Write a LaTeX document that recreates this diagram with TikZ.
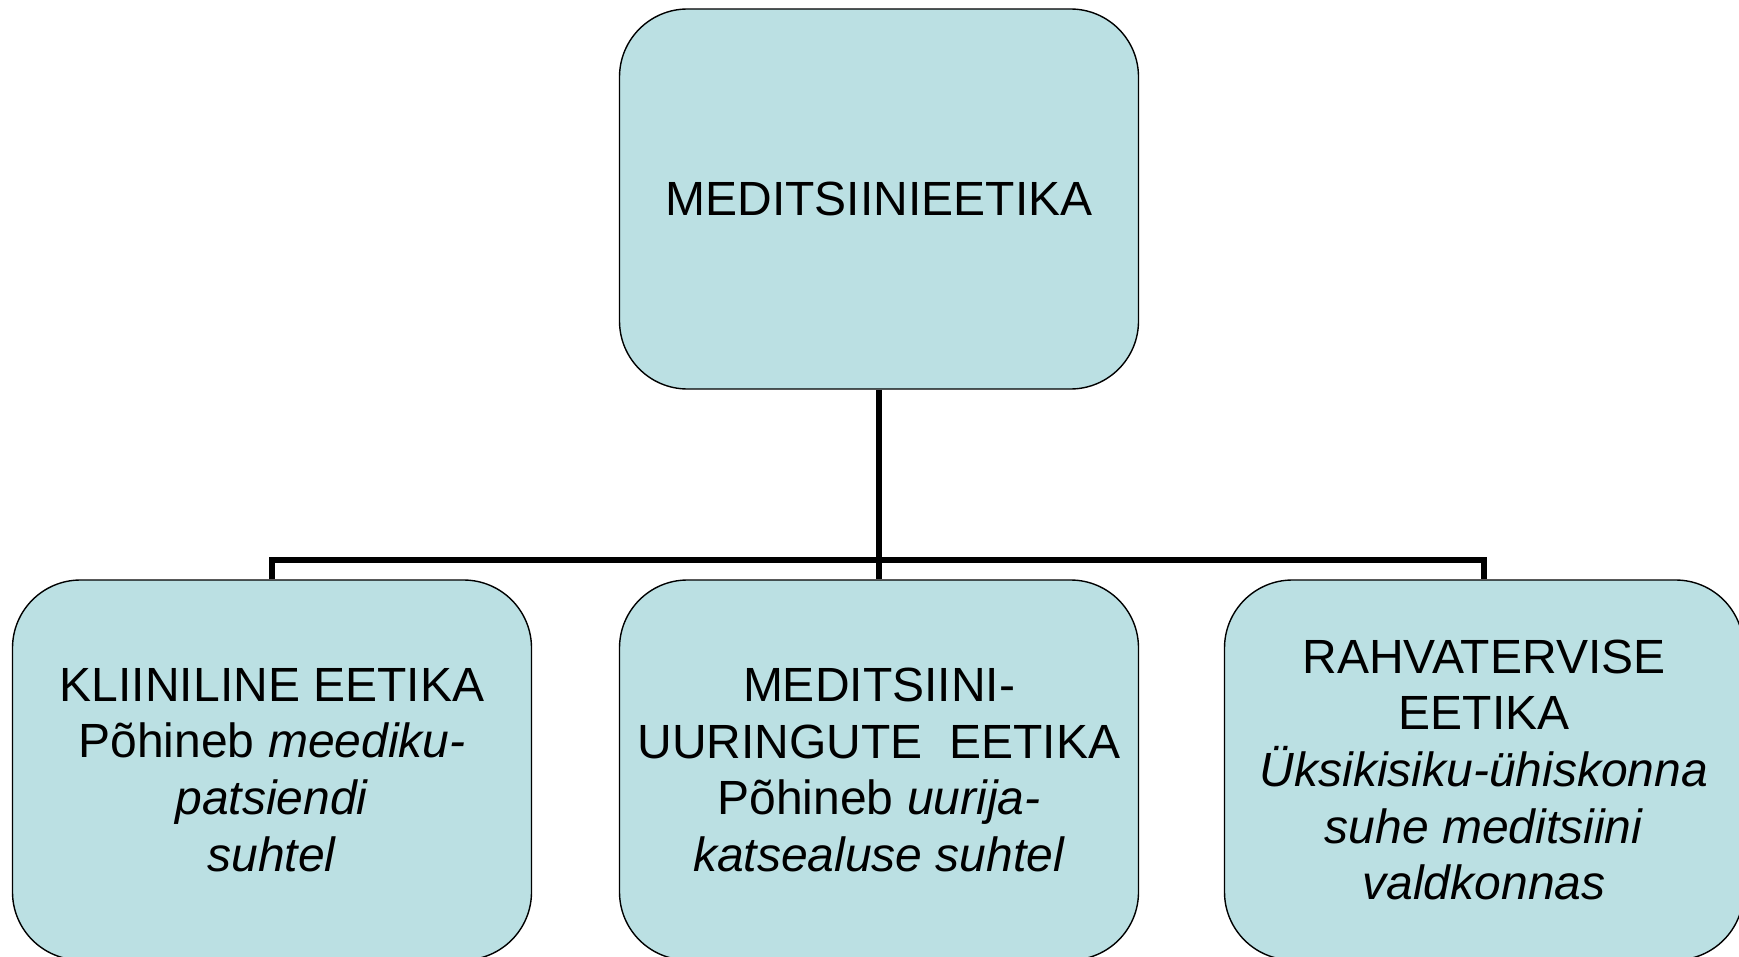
\documentclass[tikz,border=0pt]{standalone}
\usepackage{fontspec}
\setmainfont{Liberation Sans}
\usetikzlibrary{positioning}
\definecolor{boxfill}{RGB}{187,224,227}

\begin{document}
\begin{tikzpicture}[x=0.5pt, y=-0.5pt,
		ethicsbox/.style={draw=black, line width=0.7pt, fill=boxfill, rounded corners=34pt,
			minimum width=259.5pt, minimum height=190pt, align=center, inner sep=0pt,
			font=\fontsize{24}{28.3}\selectfont},
		branch/.style={line width=3pt}]
		%%%%% START %%%%%
		
		\useasboundingbox (0, 0) rectangle (1739, 957);
		
		\node[ethicsbox] (root) at (879, 199) {MEDITSIINIEETIKA};
		
		\node[ethicsbox] (clinic) at (272, 770) {KLIINILINE EETIKA\\Põhineb \textit{meediku-}\\\textit{patsiendi}\\\textit{suhtel}};
		\node[ethicsbox] (research) at (879, 770) {MEDITSIINI-\\UURINGUTE\ \ EETIKA\\Põhineb \textit{uurija-}\\\textit{katsealuse suhtel}};
		\node[ethicsbox] (public) at (1484, 770) {RAHVATERVISE\\EETIKA\\\textit{Üksikisiku-ühiskonna}\\\textit{suhe meditsiini}\\\textit{valdkonnas}};
		
		\coordinate (bus) at (879, 560);
		
		\draw[branch] (root) -- (research);
		\draw[branch] (clinic.north) |- (bus) -| (public.north);
		
		%%%%% END %%%%%
	\end{tikzpicture}
\end{document}
